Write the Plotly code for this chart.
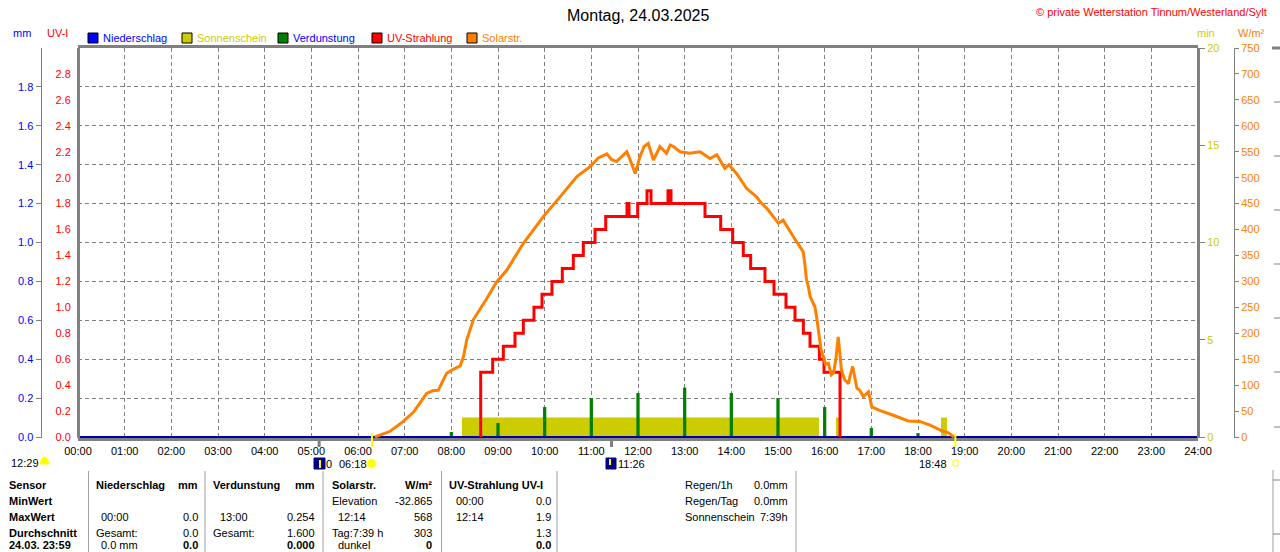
import plotly.graph_objects as go

W, H = 1280, 552
FONT = "Liberation Sans"

# ---------------- data ----------------
hour_labels = ["%02d:00" % h for h in range(25)]

# Sonnenschein (min per minute) intervals, hours
sun_start = [8.228, 16.243, 18.493]
sun_end = [15.878, 16.329, 18.621]
sun_value = [1.0, 1.0, 1.0]

# Verdunstung (mm)
evap_t = [8, 9, 10, 11, 12, 13, 14, 15, 16, 17, 18]
evap_v = [0.026, 0.072, 0.154, 0.200, 0.226, 0.254, 0.226, 0.200, 0.154, 0.046, 0.020]

# Niederschlag (mm)
rain_t = [0, 24]
rain_v = [0.0, 0.0]

# UV-Strahlung (UV-I), step line
uv_t = [8.629, 8.629, 8.886, 9.114, 9.364, 9.543, 9.771, 9.943, 10.157, 10.378, 10.614,
        10.828, 11.079, 11.308, 11.764, 11.807, 11.993, 12.193, 12.279, 12.643, 12.707,
        13.436, 13.772, 14.029, 14.256, 14.414, 14.721, 14.914, 15.171, 15.364, 15.543,
        15.686, 15.886, 15.986, 16.329]
uv_v = [0.0, 0.5, 0.6, 0.7, 0.8, 0.9, 1.0, 1.1, 1.2, 1.3, 1.4,
        1.5, 1.6, 1.7, 1.8, 1.7, 1.8, 1.9, 1.8, 1.9, 1.8,
        1.7, 1.6, 1.5, 1.4, 1.3, 1.2, 1.1, 1.0, 0.9, 0.8,
        0.7, 0.6, 0.5, 0.0]

# Solarstrahlung (W/m²)
sol_t = [6.36, 6.50, 6.69, 6.97, 7.19, 7.33, 7.47, 7.60, 7.72, 7.80, 7.90, 8.05, 8.19,
         8.26, 8.33, 8.47, 8.61, 8.76, 8.97, 9.19, 9.54, 9.97, 10.33, 10.69, 10.97, 11.15,
         11.33, 11.43, 11.54, 11.65, 11.76, 11.85, 11.94, 12.04, 12.13, 12.22, 12.33, 12.47,
         12.61, 12.69, 12.76, 12.90, 13.11, 13.33, 13.54, 13.69, 13.86, 13.95, 14.11, 14.33,
         14.54, 14.65, 14.76, 15.01, 15.11, 15.33, 15.54, 15.58, 15.61, 15.65, 15.69, 15.72,
         15.79, 15.83, 15.86, 15.92, 15.97, 16.02, 16.08, 16.14, 16.19, 16.24, 16.29, 16.33,
         16.36, 16.43, 16.51, 16.55, 16.60, 16.69, 16.75, 16.83, 16.94, 17.01, 17.19, 17.47,
         17.79, 18.04, 18.26, 18.51, 18.65, 18.77]
sol_v = [0, 5, 11, 30, 48, 66, 84, 89, 90, 105, 123, 131, 137,
         155, 187, 226, 245, 267, 299, 322, 373, 425, 463, 502, 521, 538,
         546, 535, 531, 540, 550, 530, 508, 540, 560, 566, 534, 560,
         547, 563, 560, 550, 547, 550, 537, 544, 518, 525, 508, 479,
         463, 450, 441, 412, 418, 386, 357, 330, 303, 290, 270, 265,
         251, 230, 206, 170, 155, 140, 142, 120, 123, 150, 193, 160,
         129, 110, 103, 120, 136, 94, 90, 78, 87, 58, 51, 42,
         31, 30, 23, 12, 8, 0]

sunrise, sunset = 6.30, 18.80
moon_times = [5.167, 11.433]

# table texts
tbl_rows = ["Sensor", "MinWert", "MaxWert", "Durchschnitt", "24.03. 23:59"]
tbl_nied = [("Niederschlag", "mm"), ("", ""), ("00:00", "0.0"), ("Gesamt:", "0.0"), ("0.0 mm", "0.0")]
tbl_verd = [("Verdunstung", "mm"), ("", ""), ("13:00", "0.254"), ("Gesamt:", "1.600"), ("", "0.000")]
tbl_sol = [("Solarstr.", "W/m²"), ("Elevation", "-32.865"), ("12:14", "568"), ("Tag:7:39 h", "303"), ("dunkel", "0")]
tbl_uv = [("UV-Strahlung UV-I", ""), ("00:00", "0.0"), ("12:14", "1.9"), ("", "1.3"), ("", "0.0")]
tbl_right = [("Regen/1h", "0.0mm"), ("Regen/Tag", "0.0mm"), ("Sonnenschein", "7:39h")]

# ---------------- helpers ----------------
def px(x):
    return x / W

def py(y):
    return 1 - y / H

annotations = []
shapes = []

def txt(x, y, s, color="black", size=11, anchor="left", bold=False):
    annotations.append(dict(x=px(x), y=py(y), xref="paper", yref="paper",
                            text=("<b>%s</b>" % s) if bold else s, showarrow=False,
                            xanchor=anchor, yanchor="middle", borderpad=0,
                            font=dict(family=FONT, size=size, color=color)))

def rect(x0, y0, x1, y1, fill, line="black", lw=1):
    shapes.append(dict(type="rect", xref="paper", yref="paper", x0=px(x0), x1=px(x1),
                       y0=py(y1), y1=py(y0), fillcolor=fill,
                       line=dict(color=line, width=lw), layer="above"))

def seg(x0, y0, x1, y1, color="#808080", lw=1, dash=None):
    shapes.append(dict(type="line", xref="paper", yref="paper", x0=px(x0), x1=px(x1),
                       y0=py(y0), y1=py(y1), line=dict(color=color, width=lw, dash=dash),
                       layer="above"))

GRAY = "#808080"
YEL = "#cccc00"
ORA = "#ff8000"
BLUE = "#0000ff"
RED = "#ff0000"
GREEN = "#008000"

x_dom = [px(78), px(1198)]
y_dom = [py(438), py(48)]

def rng(top):
    return [-top / 389.0, top]

fig = go.Figure()

# base axis y = mm (carries grid + Niederschlag)
fig.add_trace(go.Scatter(x=rain_t, y=rain_v, mode="lines",
                         line=dict(color="#0000b0", width=2), yaxis="y", xaxis="x"))
fig.add_trace(go.Bar(x=[(a + b) / 2 for a, b in zip(sun_start, sun_end)],
                     y=sun_value, width=[b - a for a, b in zip(sun_start, sun_end)],
                     marker=dict(color=YEL, line=dict(width=0)), yaxis="y2", xaxis="x"))
fig.add_trace(go.Bar(x=evap_t, y=evap_v, width=0.07,
                     marker=dict(color=GREEN, line=dict(width=0)), yaxis="y3", xaxis="x"))
fig.add_trace(go.Scatter(x=rain_t, y=rain_v, mode="lines",
                         line=dict(color="#0000b0", width=2), yaxis="y3", xaxis="x"))
fig.add_trace(go.Scatter(x=uv_t, y=uv_v, mode="lines", line_shape="hv",
                         line=dict(color=RED, width=3), yaxis="y4", xaxis="x"))
fig.add_trace(go.Scatter(x=sol_t, y=sol_v, mode="lines",
                         line=dict(color=ORA, width=3), yaxis="y5", xaxis="x"))

tick_font = lambda c: dict(family=FONT, size=11, color=c)

layout = dict(
    width=W, height=H, autosize=False,
    margin=dict(l=0, r=0, t=0, b=0),
    paper_bgcolor="white", plot_bgcolor="white",
    showlegend=False, barmode="overlay", hovermode=False,
    xaxis=dict(domain=x_dom, range=[0, 24], tickvals=list(range(25)), ticktext=hour_labels,
               showgrid=True, gridcolor=GRAY, griddash="4px,3px", gridwidth=1,
               showline=True, linecolor=GRAY, linewidth=3, mirror=True,
               ticks="outside", ticklen=1, tickcolor="rgba(0,0,0,0)",
               tickfont=tick_font("black"), zeroline=False, anchor="y", automargin=False),
    yaxis=dict(domain=y_dom, anchor="free", position=px(40.5), side="left",
               range=rng(2), tickvals=[i * 0.2 for i in range(10)],
               ticktext=["%.1f" % (i * 0.2) for i in range(10)],
               ticks="outside", ticklen=5, tickcolor=GRAY, showline=True, linecolor=GRAY,
               linewidth=1, tickfont=tick_font(BLUE), showgrid=True, gridcolor=GRAY,
               griddash="4px,3px", gridwidth=1, zeroline=False, automargin=False),
    yaxis2=dict(overlaying="y", anchor="free", position=px(1198), side="right",
                range=rng(20), tickvals=[0, 5, 10, 15, 20], ticks="outside", ticklen=5,
                tickcolor=GRAY, showline=True, linecolor=GRAY, linewidth=3,
                tickfont=tick_font(YEL), showgrid=False, zeroline=False, automargin=False),
    yaxis3=dict(overlaying="y", anchor="free", position=px(40.5), side="left",
                range=rng(2), visible=False, showgrid=False, zeroline=False,
                automargin=False),
    yaxis4=dict(overlaying="y", anchor="free", position=px(78), side="left",
                range=rng(3), tickvals=[i * 0.2 for i in range(15)],
                ticktext=["%.1f" % (i * 0.2) for i in range(15)],
                ticks="outside", ticklen=4, tickcolor="rgba(0,0,0,0)", showline=True,
                linecolor=GRAY, linewidth=3, tickfont=tick_font(RED), showgrid=False,
                zeroline=False, automargin=False),
    yaxis5=dict(overlaying="y", anchor="free", position=px(1234), side="right",
                range=rng(750), tickvals=list(range(0, 751, 50)), ticks="outside",
                ticklen=4, tickcolor=GRAY, showline=True, linecolor=GRAY, linewidth=1,
                tickfont=tick_font(ORA), showgrid=False, zeroline=False, automargin=False),
)

# ---------- titles / header ----------
txt(638, 15, "Montag, 24.03.2025", size=16, anchor="center")
txt(1268, 12, "© private Wetterstation Tinnum/Westerland/Sylt", color=RED, size=11, anchor="right")
txt(22, 33, "mm", color=BLUE, anchor="center")
txt(57, 33, "UV-I", color=RED, anchor="center")
txt(1206, 33, "min", color=YEL, anchor="center")
txt(1251, 33, "W/m²", color=ORA, anchor="center")

legend = [(88, BLUE, "Niederschlag", BLUE), (182, YEL, "Sonnenschein", YEL),
          (278, GREEN, "Verdunstung", BLUE), (372, RED, "UV-Strahlung", RED),
          (467, ORA, "Solarstr.", ORA)]
for x0, c, label, tc in legend:
    rect(x0, 33, x0 + 10, 43, c)
    txt(x0 + 14, 38, label, color=tc)

# ---------- sun / moon markers under axis ----------
for t in [sunrise, sunset]:
    shapes.append(dict(type="line", xref="x", yref="paper", x0=t, x1=t, y0=py(447), y1=py(433),
                       line=dict(color="#ffff00", width=2), layer="above"))
for t in moon_times:
    shapes.append(dict(type="line", xref="x", yref="paper", x0=t, x1=t, y0=py(447), y1=py(439),
                       line=dict(color=GRAY, width=3), layer="above"))

txt(10, 463, "12:29")
shapes.append(dict(type="path", xref="paper", yref="paper",
                   path="M %f,%f L %f,%f L %f,%f L %f,%f L %f,%f Z" % (
                       px(40), py(464), px(41.5), py(459), px(44.5), py(457),
                       px(47.5), py(459), px(49), py(464)),
                   fillcolor="#ffff00", line=dict(color="#ffff00", width=1), layer="above"))
rect(314, 458, 325, 469, "#000080", line="#000080")
seg(320, 460, 320, 468, color="#ffff00", lw=2)
txt(325, 464, "0")
txt(338, 464, "06:18")
shapes.append(dict(type="circle", xref="paper", yref="paper", x0=px(367), x1=px(376),
                   y0=py(468), y1=py(459), fillcolor="#ffff00",
                   line=dict(color="#ffff60", width=1), layer="above"))
rect(606, 458, 616, 469, "#000080", line="#000080")
seg(610, 459, 610, 465, color="#ffff00", lw=2)
txt(617, 464, "11:26")
txt(948, 464, "18:48", anchor="right")
rect(953, 460, 958, 466, "white", line="#ffff00")

# ---------- right-edge clipped neighbour ----------
seg(1272, 48, 1280, 48, lw=3)
for yy in [102, 156, 210, 264, 318, 372, 427]:
    seg(1274, yy, 1280, yy, lw=1)
seg(1273, 470, 1273, 552, color="#a0a0a0")
for yy in [480, 534]:
    seg(1273, yy, 1280, yy, color=GRAY)

# ---------- table ----------
for xx in [88.5, 205, 323, 441.5, 557, 796]:
    seg(xx, 471, xx, 552, color="#a0a0a0")
row_y = [485, 501, 517, 533, 545]
for i, r in enumerate(tbl_rows):
    txt(8, row_y[i], r, bold=True)

def col(data, xl, xr, xl_sub=None):
    for i, (a, b) in enumerate(data):
        bold = (i == 0) or (i == 4)
        left_bold = (i == 0)
        xa = xl if (xl_sub is None or i in (0, 1, 3)) else xl_sub
        if a:
            txt(xa, row_y[i], a, bold=left_bold)
        if b:
            txt(xr, row_y[i], b, anchor="right", bold=bold)

col(tbl_nied, 95, 199, 100)
col(tbl_verd, 212, 316, 219)
col(tbl_sol, 331, 433, 337)
col([tbl_uv[0]], 448, 552)
for i, (a, b) in enumerate(tbl_uv[1:], start=1):
    if a:
        txt(455, row_y[i], a)
    if b:
        txt(552, row_y[i], b, anchor="right", bold=(i == 4))
for i, (a, b) in enumerate(tbl_right):
    txt(684, row_y[i], a)
    txt(789, row_y[i], b, anchor="right")

layout["annotations"] = annotations
layout["shapes"] = shapes
fig.update_layout(**layout)
fig.write_html("out.html", config={"displayModeBar": False},
               post_script="document.body.style.margin='0px';")
